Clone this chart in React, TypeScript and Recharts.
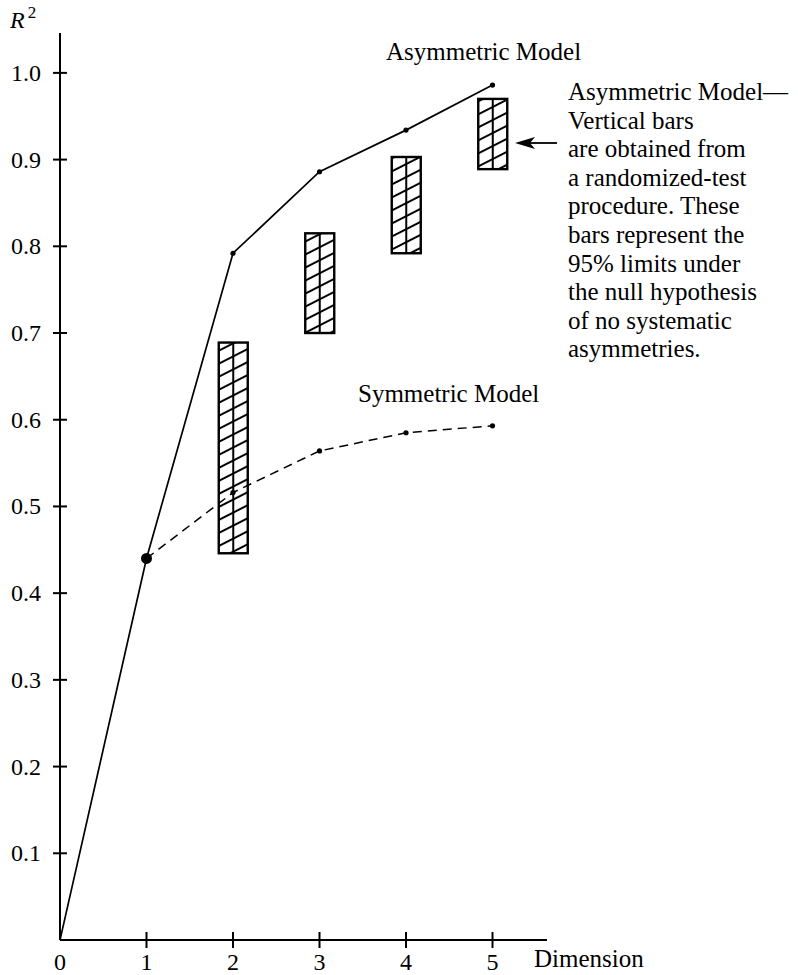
import React from 'react';
import { ComposedChart, Line, Bar, XAxis, YAxis } from 'recharts';

// dimension on the x axis
const dims = [0, 1, 2, 3, 4, 5];
// R^2 of the two models
const asymmetricR2 = [0, 0.44, 0.792, 0.886, 0.934, 0.986];
const symmetricR2 = [null, 0.44, 0.516, 0.564, 0.585, 0.593];
// 95% limits from the randomized test
const limitLow = [null, null, 0.446, 0.7, 0.792, 0.889];
const limitHigh = [null, null, 0.689, 0.815, 0.903, 0.97];

const xTicks = [0, 1, 2, 3, 4, 5];
const yTicks = [0.1, 0.2, 0.3, 0.4, 0.5, 0.6, 0.7, 0.8, 0.9, 1.0];

const noteLines = [
    'Asymmetric Model\u2014',
    'Vertical bars',
    'are obtained from',
    'a randomized-test',
    'procedure. These',
    'bars represent the',
    '95% limits under',
    'the null hypothesis',
    'of no systematic',
    'asymmetries.',
];

const rows = dims.map((d, i) => ({
    dim: d,
    asym: asymmetricR2[i],
    sym: symmetricR2[i],
    limits: limitLow[i] == null ? null : [limitLow[i], limitHigh[i]],
}));

const FONT = '"Liberation Serif", "Times New Roman", serif';

const XTick = ({ x, y, payload }: any) => (
    <g>
        {payload.value !== 0 && (
            <line x1={x} y1={y - 8} x2={x} y2={y + 8} stroke="#000" strokeWidth={2} />
        )}
        <text x={x} y={y + 30} textAnchor="middle" fontSize={24} fontFamily={FONT} fill="#000">
            {payload.value}
        </text>
    </g>
);

const YTick = ({ x, y, payload }: any) => (
    <g>
        <line x1={x - 7} y1={y} x2={x + 7} y2={y} stroke="#000" strokeWidth={2} />
        <text x={x - 19} y={y + 8} textAnchor="end" fontSize={24} fontFamily={FONT} fill="#000">
            {payload.value.toFixed(1)}
        </text>
    </g>
);

const HatchBar = (props: any) => {
    const { x, y, width, height } = props;
    if (!height) return null;
    return (
        <g>
            <rect x={x} y={y} width={width} height={height} fill="url(#hatch)" stroke="#000" strokeWidth={2.4} />
            <line x1={x + width / 2} y1={y} x2={x + width / 2} y2={y + height} stroke="#000" strokeWidth={2} />
        </g>
    );
};

const AsymDot = (props: any) => {
    const { cx, cy, index } = props;
    if (index === 0) return <g key={`a${index}`} />;
    return <circle key={`a${index}`} cx={cx} cy={cy} r={index === 1 ? 5.5 : 2.6} fill="#000" />;
};

const SymDot = (props: any) => {
    const { cx, cy, index } = props;
    if (cx == null || cy == null || index < 2) return <g key={`s${index}`} />;
    return <circle key={`s${index}`} cx={cx} cy={cy} r={2.6} fill="#000" />;
};

export default function App() {
    return (
        <div style={{ position: 'absolute', left: 0, top: 0, width: 798, height: 975, background: '#fff' }}>
            <ComposedChart
                width={798}
                height={975}
                data={rows}
                margin={{ top: 33, right: 251, left: 0, bottom: 0 }}
            >
                <defs>
                    <pattern id="hatch" patternUnits="userSpaceOnUse" width={12} height={11.6} patternTransform="rotate(-27)">
                        <line x1={0} y1={5.8} x2={12} y2={5.8} stroke="#000" strokeWidth={2} />
                    </pattern>
                </defs>
                <XAxis
                    dataKey="dim"
                    type="number"
                    domain={[0, 5.63]}
                    ticks={xTicks}
                    interval={0}
                    height={35}
                    tickSize={0}
                    tickMargin={0}
                    tickLine={false}
                    axisLine={{ stroke: '#000', strokeWidth: 2 }}
                    tick={<XTick />}
                    allowDataOverflow
                />
                <YAxis
                    type="number"
                    domain={[0, 1.046]}
                    ticks={yTicks}
                    interval={0}
                    width={60}
                    tickSize={0}
                    tickMargin={0}
                    tickLine={false}
                    axisLine={{ stroke: '#000', strokeWidth: 2 }}
                    tick={<YTick />}
                    allowDataOverflow
                />
                <Bar dataKey="limits" barSize={29} shape={<HatchBar />} isAnimationActive={false} />
                <Line
                    dataKey="asym"
                    stroke="#000"
                    strokeWidth={1.7}
                    dot={AsymDot}
                    activeDot={false}
                    isAnimationActive={false}
                />
                <Line
                    dataKey="sym"
                    stroke="#000"
                    strokeWidth={1.5}
                    strokeDasharray="9 6"
                    dot={SymDot}
                    activeDot={false}
                    connectNulls={false}
                    isAnimationActive={false}
                />
            </ComposedChart>
            <svg
                width={798}
                height={975}
                style={{ position: 'absolute', left: 0, top: 0, pointerEvents: 'none' }}
                fontFamily={FONT}
                fill="#000"
            >
                <text x={10} y={28} fontSize={24} fontStyle="italic">
                    R
                    <tspan dx={3} dy={-10} fontSize={17} fontStyle="normal">2</tspan>
                </text>
                <text x={386} y={60} fontSize={25}>Asymmetric Model</text>
                <text x={358} y={402} fontSize={25}>Symmetric Model</text>
                <text x={534} y={967} fontSize={25}>Dimension</text>
                {noteLines.map((t, i) => (
                    <text key={t} x={568} y={100 + i * 28.6} fontSize={25}>{t}</text>
                ))}
                <line x1={557} y1={143} x2={528} y2={143} stroke="#000" strokeWidth={1.8} />
                <polygon points="515,143 535,137 530,143 535,149" fill="#000" />
            </svg>
        </div>
    );
}
